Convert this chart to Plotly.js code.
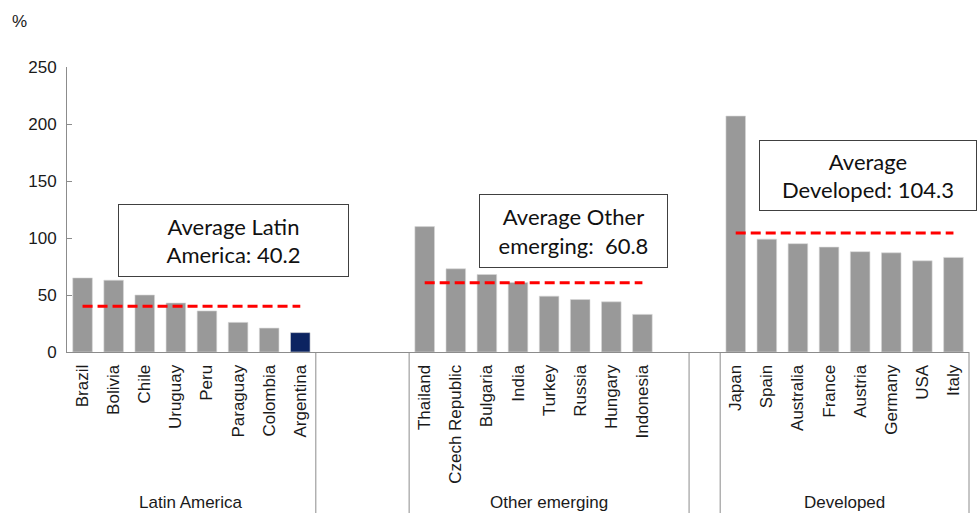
<!DOCTYPE html>
<html>
<head>
<meta charset="utf-8">
<script src="https://cdn.plot.ly/plotly-3.0.1.min.js"></script>
<style>
  html, body { margin: 0; padding: 0; background: #ffffff; }
  #chart { width: 978px; height: 513px; }
</style>
</head>
<body>
<div id="chart"></div>
<script>
// Country groups and their values (%)
const latinNames = ["Brazil", "Bolivia", "Chile", "Uruguay", "Peru", "Paraguay", "Colombia", "Argentina"];
const latinValues = [65, 63, 50, 43, 36, 26, 21, 17];

const otherNames = ["Thailand", "Czech Republic", "Bulgaria", "India", "Turkey", "Russia", "Hungary", "Indonesia"];
const otherValues = [110, 73, 68, 61, 49, 46, 44, 33];

const devNames = ["Japan", "Spain", "Australia", "France", "Austria", "Germany", "USA", "Italy"];
const devValues = [207, 99, 95, 92, 88, 87, 80, 83];

const groupLabels = ["Latin America", "Other emerging", "Developed"];
const groupAverages = [40.2, 60.8, 104.3];
const averageTexts = ["Average Latin<br>America: 40.2", "Average Other<br>emerging:  60.8", "Average<br>Developed: 104.3"];

const highlighted = "Argentina";

// Slot layout: each group has its bars plus trailing empty slots
const groups = [
  { names: latinNames, values: latinValues, trailing: 0, gapAfter: 3 },
  { names: otherNames, values: otherValues, trailing: 1, gapAfter: 1 },
  { names: devNames, values: devValues, trailing: 0, gapAfter: 0 }
];

const GREY = "#999999";
const NAVY = "#0c2461";
const AXIS = "#8c8c8c";
const TEXT = "#1a1a1a";
const SANS = "Liberation Sans, Arial, sans-serif";

let slot = 0;
const xs = [], ys = [], names = [], colors = [];
const boundaries = [];   // slot boundaries for the divider lines
const groupSpans = [];
groups.forEach((g) => {
  const start = slot;
  g.names.forEach((n, i) => {
    xs.push(slot); ys.push(g.values[i]); names.push(n);
    colors.push(n === highlighted ? NAVY : GREY);
    slot++;
  });
  const lastBar = slot - 1;
  slot += g.trailing;
  groupSpans.push({ start: start, lastBar: lastBar, end: slot });
  boundaries.push(slot);
  slot += g.gapAfter;
  if (g.gapAfter > 0) boundaries.push(slot);
});
const nSlots = slot;
const toPaper = (b) => b / nSlots;   // boundary b sits at data x = b - 0.5

const traces = [{
  type: "bar",
  x: xs, y: ys,
  marker: { color: colors, line: { color: "#d9d9d9", width: 0.6 } },
  width: 0.63,
  hoverinfo: "skip",
  showlegend: false
}];

// dashed average lines spanning each group's bars
groupSpans.forEach((s, i) => {
  traces.push({
    type: "scatter", mode: "lines",
    x: [s.start, s.lastBar],
    y: [groupAverages[i], groupAverages[i]],
    line: { color: "#ff0000", width: 3, dash: "10px,5px" },
    hoverinfo: "skip", showlegend: false
  });
});

const plotH = 285;
const shapes = boundaries.map((b) => ({
  type: "line", xref: "paper", yref: "paper",
  x0: toPaper(b), x1: toPaper(b), y0: 0, y1: -161 / plotH - 0.05,
  line: { color: AXIS, width: 1 }
}));

const annotations = [];
groupSpans.forEach((s, i) => {
  annotations.push({
    xref: "paper", yref: "paper",
    x: (toPaper(s.start) + toPaper(s.end)) / 2, y: -151 / plotH,
    text: groupLabels[i], showarrow: false,
    xanchor: "center", yanchor: "middle",
    font: { family: SANS, size: 17, color: TEXT }
  });
});

// callout boxes with the group averages
const boxes = [
  { x: 4.84, y: 98.2, w: 229, h: 71 },
  { x: 15.8, y: 106.5, w: 187, h: 72 },
  { x: 25.24, y: 155.1, w: 216, h: 69 }
];
boxes.forEach((b, i) => {
  annotations.push({
    xref: "x", yref: "y", x: b.x, y: b.y,
    text: averageTexts[i], showarrow: false,
    xanchor: "center", yanchor: "middle",
    width: b.w, height: b.h, align: "center", valign: "middle",
    bordercolor: "#404040", borderwidth: 1, borderpad: 0,
    bgcolor: "#ffffff",
    font: { family: "Lato, Carlito, Calibri, sans-serif", size: 22, color: "#111111" }
  });
});

annotations.push({
  xref: "paper", yref: "paper", x: -48 / 902, y: 330 / plotH,
  text: "%", showarrow: false, xanchor: "center", yanchor: "middle",
  font: { family: SANS, size: 17, color: TEXT }
});

const layout = {
  width: 978, height: 513,
  margin: { l: 67, r: 9, t: 67, b: 161, pad: 0 },
  paper_bgcolor: "#ffffff", plot_bgcolor: "#ffffff",
  showlegend: false,
  xaxis: {
    range: [-0.5, nSlots - 0.5],
    tickmode: "array", tickvals: xs, ticktext: names,
    tickangle: -90, ticks: "", showgrid: false, zeroline: false,
    showline: true, linecolor: AXIS, linewidth: 1,
    ticklabelstandoff: 5,
    tickfont: { family: SANS, size: 17, color: TEXT },
    fixedrange: true
  },
  yaxis: {
    range: [0, 250], tickvals: [0, 50, 100, 150, 200, 250],
    ticks: "inside", ticklen: 5, tickcolor: AXIS, tickwidth: 1,
    showgrid: false, zeroline: false,
    showline: true, linecolor: AXIS, linewidth: 1,
    ticklabelstandoff: 6,
    tickfont: { family: SANS, size: 17, color: TEXT },
    fixedrange: true
  },
  shapes: shapes,
  annotations: annotations
};

Plotly.newPlot("chart", traces, layout, { displayModeBar: false, staticPlot: true });
</script>
</body>
</html>
